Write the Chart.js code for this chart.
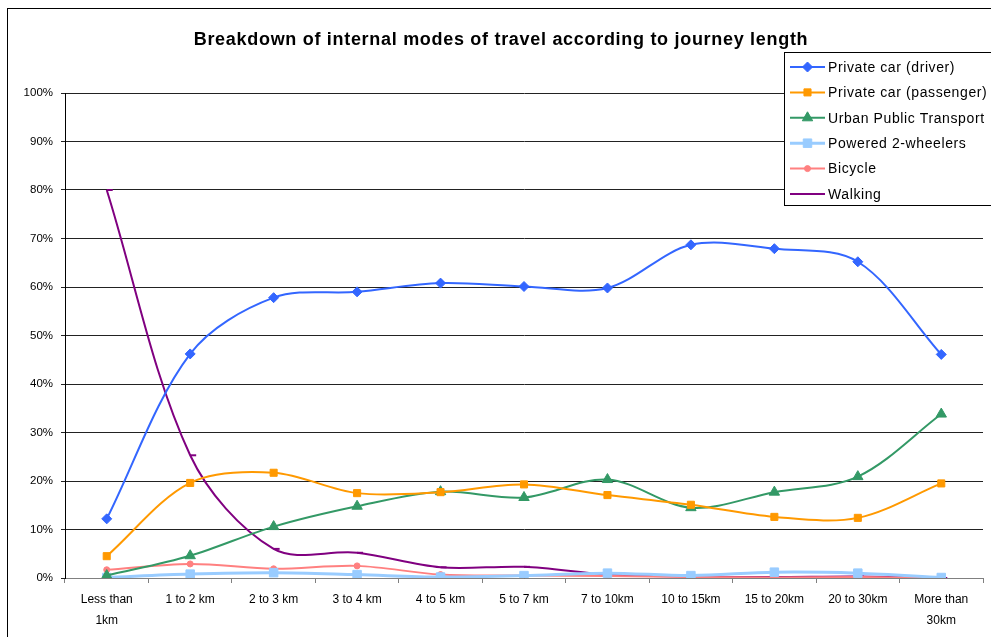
<!DOCTYPE html>
<html>
<head>
<meta charset="utf-8">
<script src="https://cdn.jsdelivr.net/npm/chart.js@4/dist/chart.umd.min.js"></script>
<style>
  html, body { margin: 0; padding: 0; background: #fff; }
  #wrap { position: relative; width: 991px; height: 637px; }
</style>
</head>
<body>
<div id="wrap"><canvas id="chTravel" width="991" height="637"></canvas></div>
<script>
// journey length categories
let categories = [
  ["Less than", "1km"], "1 to 2 km", "2 to 3 km", "3 to 4 km", "4 to 5 km",
  "5 to 7 km", "7 to 10km", "10 to 15km", "15 to 20km", "20 to 30km", ["More than", "30km"]
];

// share of journeys, percent
let carDriver    = [12.2, 46.2, 57.8, 59.0, 60.8, 60.1, 59.8, 68.7, 67.9, 65.2, 46.1];
let carPassenger = [4.5, 19.6, 21.7, 17.5, 17.7, 19.3, 17.1, 15.1, 12.6, 12.4, 19.5];
let publicTrans  = [0.5, 4.6, 10.6, 14.8, 17.8, 16.6, 20.3, 14.5, 17.7, 20.9, 33.8];
let twoWheelers  = [0.1, 0.8, 1.1, 0.7, 0.2, 0.5, 1.0, 0.5, 1.2, 1.0, 0.1];
let bicycle      = [1.7, 2.9, 1.9, 2.5, 0.7, 0.5, 0.4, 0.2, 0.1, 0.2, 0.0];
let walking      = [80.0, 25.3, 6.0, 5.2, 2.2, 2.3, 0.7, 0.3, 0.2, 0.3, 0.0];

let yTicks = [0, 10, 20, 30, 40, 50, 60, 70, 80, 90, 100];

let fontName = "'Liberation Sans', Arial, sans-serif";

function series(label, data, color, style, radius, width) {
  return {
    label: label,
    data: data,
    borderColor: color,
    backgroundColor: color,
    borderWidth: width || 2,
    pointStyle: style,
    pointRadius: radius,
    pointBorderWidth: style === "dash" ? 2 : 1,
    pointHoverRadius: radius,
    tension: 0.33,
    fill: false
  };
}

let datasets = [
  series("Private car (driver)", carDriver, "#3366FF", "rectRot", 5),
  series("Private car (passenger)", carPassenger, "#FF9900", "rect", 5),
  series("Urban Public Transport", publicTrans, "#339966", "triangle", 6),
  series("Powered 2-wheelers", twoWheelers, "#99CCFF", "rect", 6, 3),
  series("Bicycle", bicycle, "#FF8080", "circle", 3),
  series("Walking", walking, "#800080", "dash", 6)
];

// title, outer frame and the overlay legend
let decorPlugin = {
  id: "decor",
  beforeDraw(chart) {
    let c = chart.ctx;
    c.save();
    c.fillStyle = "#fff";
    c.fillRect(0, 0, chart.width, chart.height);
    c.strokeStyle = "#000";
    c.lineWidth = 1;
    c.strokeRect(7.5, 8.5, chart.width + 10, chart.height + 10);
    c.fillStyle = "#000";
    c.font = "bold 18px " + fontName;
    c.letterSpacing = "0.7px";
    c.textAlign = "center";
    c.textBaseline = "middle";
    c.fillText("Breakdown of internal modes of travel according to journey length", 501, 40);
    c.restore();
  },
  afterDraw(chart) {
    let c = chart.ctx;
    let x0 = 784, y0 = 52, w = 215, h = 153;
    c.save();
    c.fillStyle = "#fff";
    c.fillRect(x0, y0, w, h);
    c.strokeStyle = "#000";
    c.lineWidth = 1;
    c.strokeRect(x0 + 0.5, y0 + 0.5, w, h);
    c.font = "14px " + fontName;
    c.letterSpacing = "0.6px";
    c.textBaseline = "middle";
    c.textAlign = "left";
    chart.data.datasets.forEach(function (ds, i) {
      let y = 67 + i * 25.4;
      c.strokeStyle = ds.borderColor;
      c.lineWidth = ds.borderWidth;
      c.beginPath();
      c.moveTo(790, y);
      c.lineTo(825, y);
      c.stroke();
      if (ds.pointStyle !== "dash") {
        c.fillStyle = ds.backgroundColor;
        c.strokeStyle = ds.borderColor;
        c.lineWidth = 1;
        Chart.helpers.drawPoint(c, { pointStyle: ds.pointStyle, radius: ds.pointRadius, rotation: 0, borderWidth: 1 }, 807.5, y);
      }
      c.fillStyle = "#000";
      c.fillText(ds.label, 828, y + 1);
    });
    c.restore();
  }
};

let chTravel = new Chart(document.getElementById("chTravel"), {
  type: "line",
  data: { labels: categories, datasets: datasets },
  plugins: [decorPlugin],
  options: {
    responsive: false,
    animation: false,
    events: [],
    layout: { padding: { top: 93, right: 7, left: 0, bottom: 0 } },
    plugins: { legend: { display: false }, title: { display: false }, tooltip: { enabled: false } },
    scales: {
      x: {
        offset: true,
        grid: { drawOnChartArea: false, drawTicks: true, tickLength: 5, color: "#808080", offset: true },
        border: { color: "#808080", width: 1 },
        ticks: { color: "#000", font: { family: fontName, size: 12, lineHeight: 1.75 }, padding: 6, maxRotation: 0, autoSkip: false },
        afterFit(scale) { scale.height = 59; }
      },
      y: {
        min: 0,
        max: 100,
        afterBuildTicks(scale) { scale.ticks = yTicks.map(v => ({ value: v })); },
        grid: { color: "#222", lineWidth: 1, tickLength: 4, drawTicks: true },
        border: { color: "#000", width: 1 },
        ticks: {
          color: "#000",
          font: { family: fontName, size: 11.5 },
          padding: 8,
          callback: v => v + "%"
        },
        afterFit(scale) { scale.width = 65; }
      }
    }
  }
});
</script>
</body>
</html>
